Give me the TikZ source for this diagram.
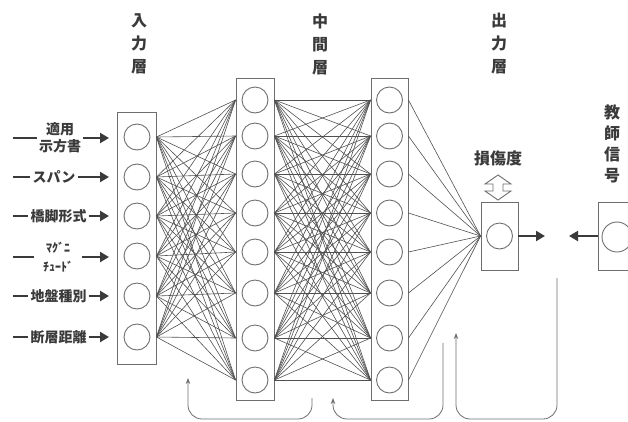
\documentclass[tikz,border=0pt]{standalone}
\usepackage{fontspec}
\newfontfamily\jp{Noto Sans CJK JP}
\usetikzlibrary{arrows.meta}
\definecolor{ink}{HTML}{3A3A3A}
\definecolor{wire}{HTML}{505050}
\definecolor{frame}{HTML}{6E6E6E}
\begin{document}
\begin{tikzpicture}[x=1pt,y=-1pt,
  layerbox/.style={draw=frame,line width=0.9pt,minimum width=38pt,inner sep=0pt},
  neuron/.style={circle,draw=frame,line width=0.9pt,minimum size=26pt,inner sep=0pt},
  conn/.style={draw=wire,line width=0.6pt},
  lbl/.style={font=\jp\bfseries\fontsize{14pt}{17pt}\selectfont,text=ink,inner sep=2pt,align=center},
  smalllbl/.style={font=\jp\bfseries\fontsize{12pt}{19pt}\selectfont,text=ink,inner sep=0pt,align=center,minimum width=47pt},
  title/.style={font=\jp\bfseries\fontsize{16pt}{23pt}\selectfont,text=ink,inner sep=0pt,align=center},
  feedline/.style={draw=ink,line width=2.4pt},
  inarrow/.style={draw=ink,line width=2.4pt,-{Triangle[length=9pt,width=10pt]}},
  outarrow/.style={draw=ink,line width=2pt,-{Triangle[length=9pt,width=10pt]}},
  fb/.style={draw=frame,line width=0.8pt,rounded corners=14pt,-{Stealth[length=6pt,width=4.5pt]}}
]
\useasboundingbox (0,0) rectangle (628,421);
\clip (0,0) rectangle (628,421);

% layer titles
\node[title] (tin) at (139,44) {入\\力\\層};
\node[title] (tmid) at (320,44) {中\\間\\層};
\node[title] (tout) at (499,44) {出\\力\\層};
\node[title,font=\jp\bfseries\fontsize{16pt}{21pt}\selectfont] (tteach) at (612,144) {教\\師\\信\\号};
\node[title] (dmg) at (498,158) {損傷度};

% layer boxes
\node[layerbox,minimum width=39pt,minimum height=252pt] (inbox) at (136.5,238) {};
\node[layerbox,minimum height=322pt] (habox) at (255,239) {};
\node[layerbox,minimum width=37pt,minimum height=322pt] (hbbox) at (389.5,239) {};
\node[layerbox,minimum width=37pt,minimum height=68pt] (outbox) at (499.5,236) {};
\node[layerbox,minimum width=60pt,minimum height=68pt] (tbox) at (628,236) {};

% neurons
\foreach \y [count=\i] in {137,177,216,256,296,337}
  \node[neuron] (in\i) at (137,\y) {};
\foreach \y [count=\i] in {100,136,174,213,252,293,338,380}{
  \node[neuron] (ha\i) at (255,\y) {};
  \node[neuron] (hb\i) at (389.5,\y) {};
}
\node[neuron] (out) at (499.5,236) {};
\node[neuron,minimum size=30pt] (teach) at (617,237) {};

% connections
\foreach \i in {1,...,6}
  \foreach \j in {1,...,8}
    \draw[conn] (inbox.east |- in\i) -- (habox.west |- ha\j);
\foreach \i in {1,...,8}
  \foreach \j in {1,...,8}
    \draw[conn] (habox.east |- ha\i) -- (hbbox.west |- hb\j);
\foreach \i in {1,...,8}
  \draw[conn] (hbbox.east |- hb\i) -- (outbox.west |- out);

% output and teacher arrows
\coordinate (outtip) at (545,236);
\coordinate (ttip) at (569,236);
\draw[outarrow] (outbox.east) -- (outtip);
\draw[outarrow] (tbox.west) -- (ttip);

% hollow double arrow
\draw[frame,line width=0.9pt,fill=white] (498,175) -- (511,184) -- (503,184) -- (503,191) -- (511,191)
  -- (498,200) -- (485,191) -- (493,191) -- (493,184) -- (485,184) -- cycle;

% input labels
\node[lbl] (r1) at (60,138) {適用\\示方書};
\node[lbl] (r2) at (54,177) {スパン};
\node[lbl] (r3) at (58.5,216) {橋脚形式};
\node[smalllbl] (r4) at (58,257) {ﾏｸﾞﾆ\\ﾁｭｰﾄﾞ};
\node[lbl] (r5) at (58.5,296) {地盤種別};
\node[lbl] (r6) at (58.5,337) {断層距離};
\foreach \i/\y in {1/138,2/177,3/216,4/257,5/296,6/337}{
  \coordinate (s\i) at (13,\y);
  \coordinate (e\i) at (109,\y);
  \draw[feedline] (s\i) -- (r\i.west);
  \draw[inarrow] (r\i.east) -- (e\i);
}

% feedback arrows at the bottom
\coordinate (f1a) at (312,398); \coordinate (f1c) at (312,419);
\coordinate (f1d) at (188,419); \coordinate (f1b) at (188,378);
\draw[fb] (f1a) -- (f1c) -- (f1d) -- (f1b);
\coordinate (f2a) at (443,343); \coordinate (f2c) at (443,419);
\coordinate (f2d) at (333,419); \coordinate (f2b) at (333,398);
\draw[fb] (f2a) -- (f2c) -- (f2d) -- (f2b);
\coordinate (f3a) at (557,278); \coordinate (f3c) at (557,419);
\coordinate (f3d) at (456,419); \coordinate (f3b) at (456,333);
\draw[fb] (f3a) -- (f3c) -- (f3d) -- (f3b);
\end{tikzpicture}
\end{document}
